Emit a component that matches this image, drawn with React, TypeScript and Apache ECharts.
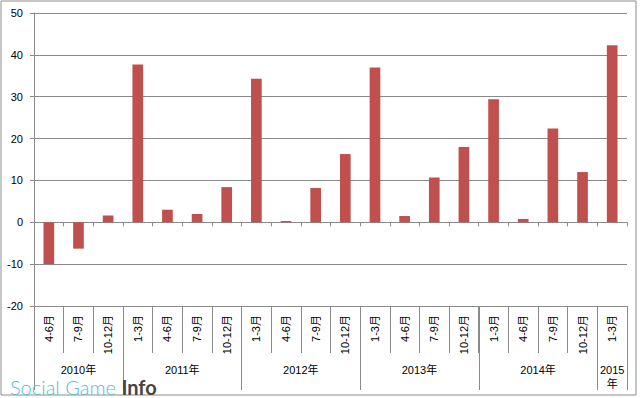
import React, { useEffect, useRef } from "react";
import * as echarts from "echarts";

const months = [
  "4-6月", "7-9月", "10-12月",
  "1-3月", "4-6月", "7-9月", "10-12月",
  "1-3月", "4-6月", "7-9月", "10-12月",
  "1-3月", "4-6月", "7-9月", "10-12月",
  "1-3月", "4-6月", "7-9月", "10-12月",
  "1-3月",
];
const values = [
  -10.0, -6.3, 1.6,
  37.7, 3.0, 2.0, 8.4,
  34.3, 0.3, 8.2, 16.3,
  37.0, 1.5, 10.7, 18.0,
  29.4, 0.8, 22.4, 12.0,
  42.3,
];
const years = ["2010年", "2011年", "2012年", "2013年", "2014年", "2015\n年"];
const yearSizes = [3, 4, 4, 4, 4, 1];
const yTicks = { min: -20, max: 50, interval: 10 };

const FONT = "'Liberation Sans', 'Noto Sans CJK JP', sans-serif";
const GRID_COLOR = "#8a8a8a";

export default function App() {
  const ref = useRef<HTMLDivElement>(null);
  useEffect(() => {
    if (!ref.current) return;
    const chart = echarts.init(ref.current, undefined, { renderer: "svg" });

    const yearBounds: number[] = [0];
    const yearCenters: number[] = [];
    let acc = 0;
    yearSizes.forEach((s) => {
      yearCenters.push(acc + s / 2);
      acc += s;
      yearBounds.push(acc);
    });
    const centerToYear = (v: number) => {
      const i = yearCenters.findIndex((c) => Math.abs(c - v) < 1e-6);
      return i >= 0 ? years[i] : "";
    };

    chart.setOption({
      animation: false,
      backgroundColor: "#ffffff",
      grid: { left: 34, right: 13, top: 13, bottom: 92 },
      xAxis: [
        {
          type: "category",
          data: months,
          position: "bottom",
          axisLine: { onZero: true, lineStyle: { color: GRID_COLOR, width: 1 } },
          axisTick: { show: true, interval: 0, length: 4, lineStyle: { color: GRID_COLOR } },
          axisLabel: { show: false },
          splitLine: { show: false },
        },
        {
          type: "category",
          data: months,
          position: "bottom",
          axisLine: { show: false, onZero: false },
          axisTick: { show: true, interval: 0, length: 47, lineStyle: { color: GRID_COLOR } },
          axisLabel: {
            show: true,
            interval: 0,
            rotate: 90,
            margin: 9,
            fontSize: 11,
            color: "#000",
            fontFamily: FONT,
          },
          splitLine: { show: false },
        },
        {
          type: "value",
          min: 0,
          max: yearSizes.reduce((a, b) => a + b, 0),
          position: "bottom",
          axisLine: { show: false, onZero: false },
          axisTick: {
            show: true,
            length: 84,
            customValues: yearBounds,
            lineStyle: { color: GRID_COLOR },
          },
          axisLabel: {
            show: true,
            customValues: yearCenters,
            formatter: (v: number) => centerToYear(v),
            margin: 57,
            fontSize: 11,
            lineHeight: 14,
            color: "#000",
            fontFamily: FONT,
            verticalAlign: "top",
          },
          splitLine: { show: false },
        },
      ],
      yAxis: {
        type: "value",
        min: yTicks.min,
        max: yTicks.max,
        interval: yTicks.interval,
        axisLine: { show: true, lineStyle: { color: GRID_COLOR } },
        axisTick: { show: true, length: 4, lineStyle: { color: GRID_COLOR } },
        axisLabel: { margin: 11, fontSize: 11, color: "#000", fontFamily: FONT },
        splitLine: { show: true, lineStyle: { color: GRID_COLOR, width: 1 } },
      },
      series: [
        {
          type: "bar",
          xAxisIndex: 0,
          yAxisIndex: 0,
          data: values,
          barWidth: "36%",
          itemStyle: { color: "#C0504D" },
        },
      ],
      graphic: [
        {
          type: "rect",
          shape: { x: 1, y: 1, width: 635, height: 394 },
          style: { fill: "none", stroke: "#8c8c8c", lineWidth: 1 },
          silent: true,
          z: 100,
        },
        {
          type: "text",
          left: 10,
          top: 377,
          z: 101,
          style: {
            text: "{a|Social Game }{b|Info}",
            rich: {
              a: { fontFamily: "Lato, 'Open Sans', sans-serif", fontWeight: 300, fontSize: 20, fill: "#55bcd6", color: "#55bcd6" },
              b: { fontFamily: "Lato, 'Open Sans', sans-serif", fontWeight: "bold", fontSize: 20, fill: "#444", color: "#444" },
            },
          },
        },
      ],
    });
    return () => chart.dispose();
  }, []);

  return (
    <div
      ref={ref}
      style={{ position: "fixed", left: 0, top: 0, width: 640, height: 398 }}
    />
  );
}
